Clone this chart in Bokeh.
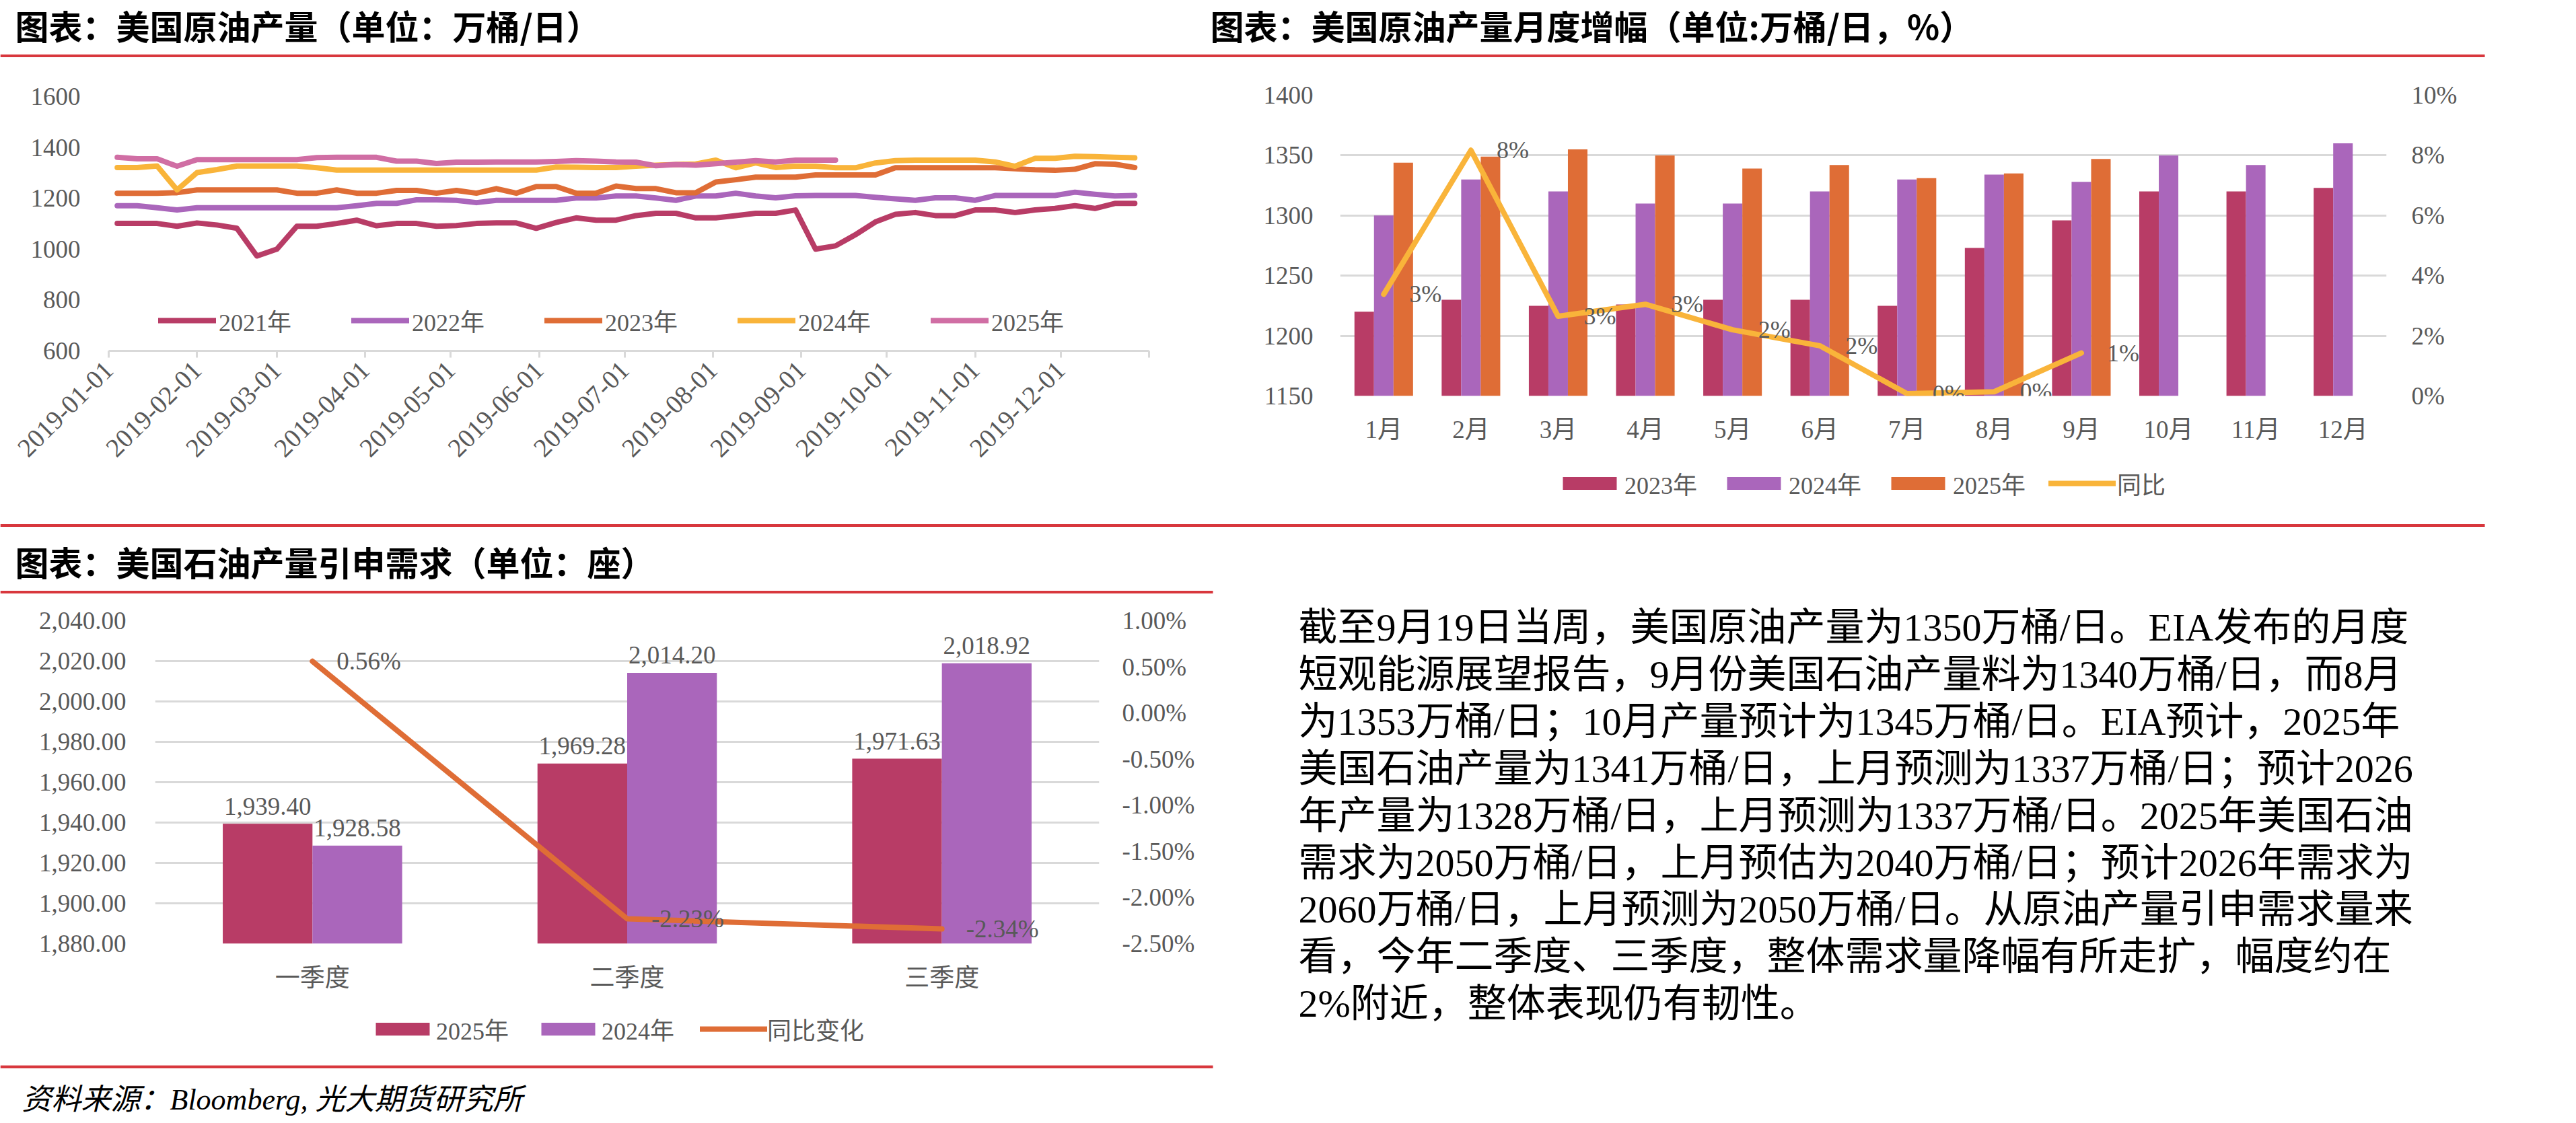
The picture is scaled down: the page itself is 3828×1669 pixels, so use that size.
import pandas as pd
from bokeh.plotting import figure
from bokeh.layouts import column, row
from bokeh.models import (Range1d, FactorRange, LinearAxis, FixedTicker, SingleIntervalTicker,
                          NumeralTickFormatter, DatetimeTickFormatter, Legend, LegendItem,
                          ColumnDataSource)
from bokeh.transform import dodge
from bokeh.core.properties import value
from bokeh.embed import file_html
from bokeh.resources import INLINE

# ---------------- texts ----------------
title1 = "图表：美国原油产量（单位：万桶/日）"
title2 = "图表：美国原油产量月度增幅（单位:万桶/日，%）"
title3 = "图表：美国石油产量引申需求（单位：座）"
source_note = "资料来源：Bloomberg, 光大期货研究所"
body_lines = [
    "截至9月19日当周，美国原油产量为1350万桶/日。EIA发布的月度",
    "短观能源展望报告，9月份美国石油产量料为1340万桶/日，而8月",
    "为1353万桶/日；10月产量预计为1345万桶/日。EIA预计，2025年",
    "美国石油产量为1341万桶/日，上月预测为1337万桶/日；预计2026",
    "年产量为1328万桶/日，上月预测为1337万桶/日。2025年美国石油",
    "需求为2050万桶/日，上月预估为2040万桶/日；预计2026年需求为",
    "2060万桶/日，上月预测为2050万桶/日。从原油产量引申需求量来",
    "看，今年二季度、三季度，整体需求量降幅有所走扩，幅度约在",
    "2%附近，整体表现仍有韧性。",
]

# ---------------- chart 1 data (weekly, mapped onto 2019 calendar) ----------------
week_dates = pd.date_range("2019-01-04", periods=52, freq="7D")
month_tick_labels = ["2019-01-01", "2019-02-01", "2019-03-01", "2019-04-01", "2019-05-01",
                     "2019-06-01", "2019-07-01", "2019-08-01", "2019-09-01", "2019-10-01",
                     "2019-11-01", "2019-12-01"]
axis_end = "2020-01-01"
series_names1 = ["2021年", "2022年", "2023年", "2024年", "2025年"]
prod_2021 = [1101, 1101, 1101, 1090, 1103, 1095, 1082, 973, 1000, 1090, 1090, 1101, 1114,
             1092, 1101, 1101, 1090, 1093, 1101, 1103, 1103, 1082, 1105, 1123, 1114, 1114,
             1132, 1141, 1141, 1123, 1123, 1132, 1141, 1141, 1154, 1000, 1013, 1057, 1107,
             1137, 1144, 1132, 1132, 1154, 1154, 1144, 1154, 1160, 1171, 1160, 1180, 1180]
prod_2022 = [1171, 1171, 1163, 1154, 1163, 1163, 1163, 1163, 1163, 1163, 1163, 1163, 1171,
             1180, 1180, 1194, 1194, 1192, 1183, 1192, 1192, 1192, 1192, 1201, 1201, 1209,
             1209, 1201, 1192, 1209, 1209, 1220, 1209, 1202, 1210, 1211, 1211, 1211, 1204,
             1198, 1192, 1202, 1202, 1192, 1211, 1211, 1211, 1211, 1224, 1216, 1209, 1211]
prod_2023 = [1220, 1220, 1220, 1222, 1233, 1233, 1233, 1233, 1233, 1220, 1220, 1233, 1220,
             1220, 1231, 1231, 1220, 1231, 1220, 1238, 1220, 1246, 1246, 1220, 1220, 1248,
             1238, 1238, 1222, 1222, 1264, 1273, 1283, 1283, 1283, 1292, 1292, 1292, 1292,
             1320, 1320, 1320, 1320, 1320, 1320, 1316, 1312, 1310, 1314, 1336, 1334, 1321]
prod_2024 = [1321, 1321, 1327, 1233, 1301, 1313, 1327, 1327, 1327, 1327, 1320, 1311, 1311,
             1311, 1311, 1311, 1311, 1311, 1311, 1311, 1311, 1311, 1323, 1322, 1321, 1321,
             1326, 1330, 1333, 1335, 1350, 1320, 1339, 1321, 1327, 1326, 1320, 1320, 1339,
             1348, 1350, 1350, 1350, 1350, 1343, 1326, 1357, 1357, 1365, 1364, 1361, 1359]
prod_2025 = [1361, 1355, 1355, 1326, 1352, 1352, 1352, 1352, 1352, 1352, 1360, 1361, 1361,
             1361, 1346, 1346, 1337, 1342, 1342, 1343, 1343, 1343, 1345, 1348, 1346, 1343,
             1342, 1328, 1333, 1330, 1336, 1342, 1348, 1343, 1350, 1350, 1350]

# ---------------- chart 2 data ----------------
months = ["1月", "2月", "3月", "4月", "5月", "6月", "7月", "8月", "9月", "10月", "11月", "12月"]
bar_2023 = [1220, 1230, 1225, 1226, 1230, 1230, 1225, 1273, 1296, 1320, 1320, 1323]
bar_2024 = [1300, 1330, 1320, 1310, 1310, 1320, 1330, 1334, 1328, 1350, 1342, 1360]
bar_2025 = [1344, 1349, 1355, 1350, 1339, 1342, 1331, 1335, 1347]
yoy_month_pct = [3.38, 8.17, 2.65, 3.05, 2.20, 1.67, 0.08, 0.14, 1.43]
names2 = ["2023年", "2024年", "2025年", "同比"]

# ---------------- chart 3 data ----------------
quarters = ["一季度", "二季度", "三季度"]
demand_2025 = [1939.40, 1969.28, 1971.63]
demand_2024 = [1928.58, 2014.20, 2018.92]
yoy_quarter_pct = [0.56, -2.23, -2.34]
names3 = ["2025年", "2024年", "同比变化"]

# ---------------- styles ----------------
SERIF = "Liberation Serif, Noto Sans CJK SC"
CJK = "Noto Sans CJK SC"
GRAY = "#595959"
GRID = "#d9d9d9"
RED = "#d8373d"
C_RED = "#b83c66"
C_PUR = "#aa66bb"
C_ORG = "#df6d36"
C_YEL = "#f9b43a"
C_PNK = "#d06ea4"
TICK_SIZE = "37px"
TITLE_SIZE = "50px"
NAN = float("nan")


def style_axis(ax, standoff, font=SERIF, size=TICK_SIZE):
    ax.axis_line_color = None
    ax.major_tick_line_color = None
    ax.minor_tick_line_color = None
    ax.major_tick_out = 0
    ax.major_tick_in = 0
    ax.minor_tick_out = 0
    ax.minor_tick_in = 0
    ax.major_label_text_font = font
    ax.major_label_text_font_size = size
    ax.major_label_text_color = GRAY
    ax.major_label_standoff = standoff


def banner(w, h):
    p = figure(width=w, height=h, x_range=Range1d(0, w), y_range=Range1d(h, 0),
               toolbar_location=None, output_backend="svg", tools="", min_border=0,
               x_axis_location=None, y_axis_location=None, frame_align=False)
    p.grid.visible = False
    p.outline_line_color = None
    return p


def legend(items, loc, gw, gh, standoff, lw, spacing, size="36px"):
    return Legend(items=items, location=loc, orientation="horizontal", glyph_width=gw,
                  glyph_height=gh, label_standoff=standoff, label_width=lw, spacing=spacing,
                  padding=0, margin=0, border_line_color=None, background_fill_alpha=0,
                  label_text_font=SERIF, label_text_font_size=size, label_text_color=GRAY)


def legend_fig(w, h, names, kinds, colors, loc, gw, gh, standoff, lw, spacing):
    # a strip holding only the legend of the chart above it (placeholder renderers hold no data)
    f = banner(w, h)
    items = []
    for name, kind, col in zip(names, kinds, colors):
        if kind == "bar":
            r = f.vbar(x=[NAN], top=[NAN], width=1, fill_color=col, line_color=None)
        else:
            r = f.line(x=[NAN], y=[NAN], line_color=col, line_width=8, line_cap="round")
        items.append(LegendItem(label=name, renderers=[r]))
    f.add_layout(legend(items, loc, gw, gh, standoff, lw, spacing))
    return f


def to_ms(s):
    return (pd.Timestamp(s) - pd.Timestamp("1970-01-01")) / pd.Timedelta(milliseconds=1)


# ---------------- header (titles row) ----------------
head1 = banner(3828, 90)
head1.text(x=[22, 1798], y=[36, 36], text=[title1, title2], text_font=value(CJK),
           text_font_style="bold", text_font_size=TITLE_SIZE, text_baseline="middle",
           text_color="#000000")
head1.segment(x0=[0], y0=[82.5], x1=[3692], y1=[82.5], line_color=RED, line_width=4)

# ---------------- chart 1 ----------------
p1 = figure(width=1800, height=688, x_axis_type="datetime",
            x_range=Range1d(pd.Timestamp(month_tick_labels[0]), pd.Timestamp(axis_end)),
            y_range=Range1d(600, 1600), toolbar_location=None, output_backend="svg", tools="",
            min_border_left=161, min_border_right=93, min_border_top=53, min_border_bottom=257,
            frame_align=False)
p1.outline_line_color = None
p1.grid.visible = False
p1.yaxis.ticker = SingleIntervalTicker(interval=200, num_minor_ticks=0)
style_axis(p1.yaxis[0], 42)
xa = p1.xaxis[0]
xa.ticker = FixedTicker(ticks=[to_ms(s) for s in month_tick_labels + [axis_end]])
xa.formatter = DatetimeTickFormatter(days="%Y-%m-%d", months="%Y-%m-%d", years="%Y-%m-%d")
overrides = {to_ms(s): s for s in month_tick_labels}
overrides[to_ms(axis_end)] = ""
xa.major_label_overrides = overrides
xa.axis_line_color = GRID
xa.axis_line_width = 3
xa.major_tick_line_color = GRID
xa.major_tick_line_width = 3
xa.major_tick_in = 0
xa.major_tick_out = 10
xa.minor_tick_line_color = None
xa.major_label_orientation = 0.785398
xa.major_label_text_font = SERIF
xa.major_label_text_font_size = "39px"
xa.major_label_text_color = GRAY
xa.major_label_standoff = 12

items1 = []
for name, vals, col in zip(series_names1, [prod_2021, prod_2022, prod_2023, prod_2024, prod_2025],
                           [C_RED, C_PUR, C_ORG, C_YEL, C_PNK]):
    r = p1.line(week_dates[:len(vals)], vals, line_color=col, line_width=8,
                line_join="round", line_cap="round")
    items1.append(LegendItem(label=name, renderers=[r]))
p1.add_layout(legend(items1, (74, 19), 86, 20, 4, 109, 88))

# ---------------- chart 2 ----------------
p2 = figure(width=2028, height=600, x_range=FactorRange(factors=months),
            y_range=Range1d(1150, 1400), toolbar_location=None, output_backend="svg", tools="",
            min_border_left=191, min_border_right=282, min_border_top=51, min_border_bottom=102,
            frame_align=False)
p2.outline_line_color = None
p2.extra_y_ranges = {"pct": Range1d(0, 0.10)}
t2 = SingleIntervalTicker(interval=50, num_minor_ticks=0)
p2.yaxis[0].ticker = t2
style_axis(p2.yaxis[0], 40)
style_axis(p2.xaxis[0], 29)
p2.xgrid.visible = False
p2.ygrid.ticker = t2
p2.ygrid.grid_line_color = GRID
p2.ygrid.grid_line_width = 3
ax2r = LinearAxis(y_range_name="pct", ticker=SingleIntervalTicker(interval=0.02, num_minor_ticks=0),
                  formatter=NumeralTickFormatter(format="0%"))
style_axis(ax2r, 37)
p2.add_layout(ax2r, "right")

src2a = ColumnDataSource(dict(m=months, y23=bar_2023, y24=bar_2024))
src2b = ColumnDataSource(dict(m=months[:len(bar_2025)], y25=bar_2025,
                              yoy=[v / 100 for v in yoy_month_pct],
                              lbl=[f"{v:.0f}%" for v in yoy_month_pct]))
bw2 = 0.224
p2.vbar(x=dodge("m", -bw2, range=p2.x_range), top="y23", width=bw2, source=src2a,
        fill_color=C_RED, line_color=None)
p2.vbar(x=dodge("m", 0, range=p2.x_range), top="y24", width=bw2, source=src2a,
        fill_color=C_PUR, line_color=None)
p2.vbar(x=dodge("m", bw2, range=p2.x_range), top="y25", width=bw2, source=src2b,
        fill_color=C_ORG, line_color=None)
p2.line(x="m", y="yoy", source=src2b, y_range_name="pct", line_color=C_YEL,
        line_width=8, line_join="round", line_cap="round")
p2.text(x="m", y="yoy", text="lbl", source=src2b, y_range_name="pct", x_offset=38,
        text_align="left", text_baseline="middle", text_font=value(SERIF),
        text_font_size="36px", text_color=GRAY)
lg2 = legend_fig(2028, 88, names2, ["bar", "bar", "bar", "line"], [C_RED, C_PUR, C_ORG, C_YEL],
                 (512, 34), 100, 24, 2, 111, 31)

# ---------------- middle header ----------------
head2 = banner(3828, 104)
head2.segment(x0=[0], y0=[2.5], x1=[3692], y1=[2.5], line_color=RED, line_width=4)
head2.segment(x0=[0], y0=[101.5], x1=[1802], y1=[101.5], line_color=RED, line_width=4)
head2.text(x=[22], y=[55], text=[title3], text_font=value(CJK), text_font_style="bold",
           text_font_size=TITLE_SIZE, text_baseline="middle", text_color="#000000")

# ---------------- chart 3 ----------------
p3 = figure(width=1800, height=618, x_range=FactorRange(factors=quarters),
            y_range=Range1d(1880, 2040), toolbar_location=None, output_backend="svg", tools="",
            min_border_left=230, min_border_right=167, min_border_top=40, min_border_bottom=98,
            frame_align=False)
p3.outline_line_color = None
p3.extra_y_ranges = {"pct": Range1d(-0.025, 0.01)}
t3 = SingleIntervalTicker(interval=20, num_minor_ticks=0)
p3.yaxis[0].ticker = t3
p3.yaxis[0].formatter = NumeralTickFormatter(format="0,0.00")
style_axis(p3.yaxis[0], 43)
style_axis(p3.xaxis[0], 30)
p3.xgrid.visible = False
p3.ygrid.ticker = t3
p3.ygrid.grid_line_color = GRID
p3.ygrid.grid_line_width = 3
ax3r = LinearAxis(y_range_name="pct", ticker=SingleIntervalTicker(interval=0.005, num_minor_ticks=0),
                  formatter=NumeralTickFormatter(format="0.00%"))
style_axis(ax3r, 34)
p3.add_layout(ax3r, "right")

src3 = ColumnDataSource(dict(q=quarters, d25=demand_2025, d24=demand_2024,
                             yoy=[v / 100 for v in yoy_quarter_pct],
                             l25=[f"{v:,.2f}" for v in demand_2025],
                             l24=[f"{v:,.2f}" for v in demand_2024],
                             lyoy=[f"{v:.2f}%" for v in yoy_quarter_pct]))
bw3 = 0.285
p3.vbar(x=dodge("q", -bw3 / 2, range=p3.x_range), top="d25", width=bw3, source=src3,
        fill_color=C_RED, line_color=None)
p3.vbar(x=dodge("q", bw3 / 2, range=p3.x_range), top="d24", width=bw3, source=src3,
        fill_color=C_PUR, line_color=None)
for col, lab, off in [("d25", "l25", -bw3 / 2), ("d24", "l24", bw3 / 2)]:
    p3.text(x=dodge("q", off, range=p3.x_range), y=col, text=lab, source=src3, y_offset=-26,
            text_align="center", text_baseline="alphabetic", text_font=value(SERIF),
            text_font_size="37px", text_color=GRAY)
p3.line(x="q", y="yoy", source=src3, y_range_name="pct", line_color=C_ORG,
        line_width=8, line_join="round", line_cap="round")
p3.text(x="q", y="yoy", text="lyoy", source=src3, y_range_name="pct", x_offset=36,
        text_align="left", text_baseline="middle", text_font=value(SERIF),
        text_font_size="37px", text_color=GRAY)
lg3 = legend_fig(1800, 80, names3, ["bar", "bar", "line"], [C_RED, C_PUR, C_ORG],
                 (548, 25), 100, 24, 0, 115, 31)

# ---------------- text block ----------------
pt = figure(width=2028, height=698, x_range=Range1d(1800, 3828), y_range=Range1d(1580, 882),
            toolbar_location=None, output_backend="svg", tools="", min_border=0,
            x_axis_location=None, y_axis_location=None, frame_align=False)
pt.grid.visible = False
pt.outline_line_color = None
line_y = [932 + 69.9 * i for i in range(len(body_lines))]
pt.text(x=[1929] * len(body_lines), y=line_y, text=body_lines, text_font=value(SERIF),
        text_font_size="58px", text_baseline="middle", text_align="left", text_color="#000000")

# ---------------- footer ----------------
foot = banner(3828, 89)
foot.segment(x0=[0], y0=[5], x1=[1802], y1=[5], line_color=RED, line_width=4)
foot.text(x=[32], y=[54], text=[source_note], text_font=value(SERIF), text_font_style="italic",
          text_font_size="44px", text_baseline="middle", text_color="#000000")

page = column(head1, row(p1, column(p2, lg2)), head2, row(column(p3, lg3), pt), foot)
open("out.html", "w").write(file_html(page, INLINE))
